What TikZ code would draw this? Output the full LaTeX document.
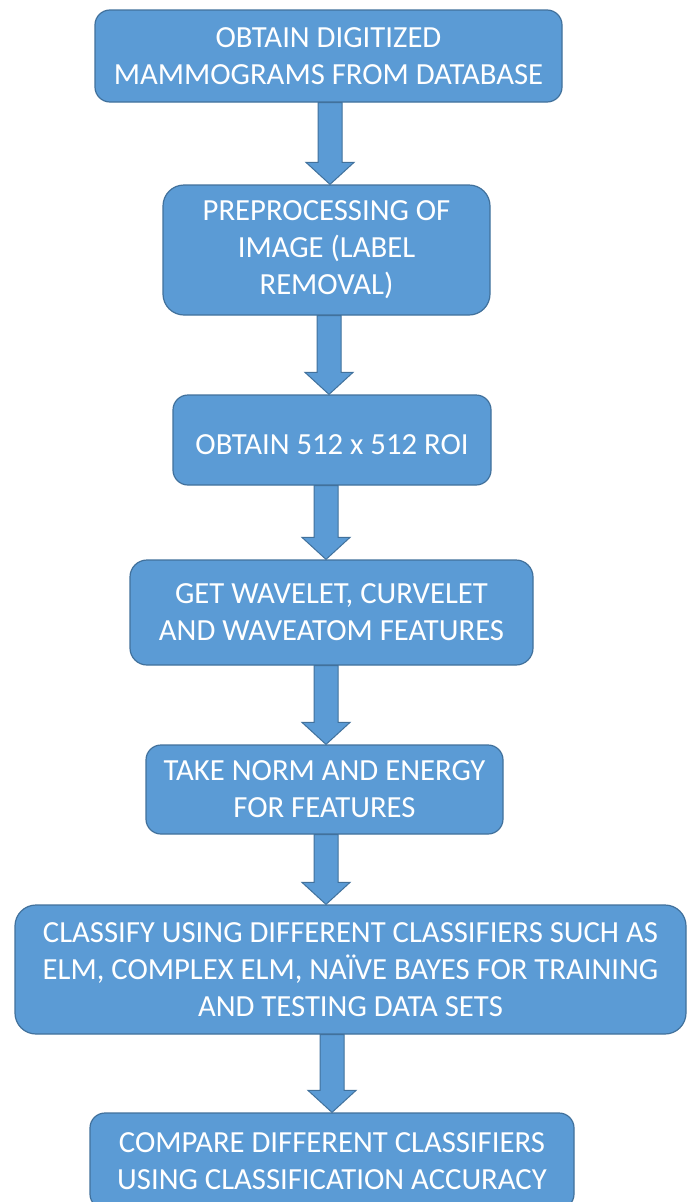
\documentclass[tikz,border=0pt]{standalone}
\usepackage{fontspec}
\setmainfont{Carlito}
\usetikzlibrary{calc}
\definecolor{boxblue}{HTML}{5B9BD5}
\definecolor{boxedge}{HTML}{41719C}
% block arrow from one box down to the next, shaft centred at x=#3
\newcommand{\flowarrow}[3]{%
  \filldraw[arrowpart] let \p1=(#1.south), \p2=(#2.north) in
    (#3pt-12pt,\y1) -- (#3pt+12pt,\y1) -- (#3pt+12pt,\y2+22pt) -- (#3pt+24pt,\y2+22pt)
    -- (#3pt,\y2) -- (#3pt-24pt,\y2+22pt) -- (#3pt-12pt,\y2+22pt) -- cycle;}

\begin{document}
\begin{tikzpicture}[x=1pt,y=-1pt,
  stepbox/.style={draw=boxedge, fill=boxblue, line width=1.2pt, rounded corners=15pt,
    text=white, align=center, inner sep=0pt, font=\fontsize{30.7}{37}\selectfont,
    execute at begin node={\rule{0pt}{30pt}}},
  arrowpart/.style={draw=boxedge, fill=boxblue, line width=1pt}]
\fill[white] (0,0) rectangle (691,1202);
\clip (0,0) rectangle (691,1202);
\node[stepbox, minimum width=467, minimum height=92] (obtain) at (328.5,56) {OBTAIN DIGITIZED\\MAMMOGRAMS FROM DATABASE};
\node[stepbox, minimum width=327, minimum height=130, rounded corners=21pt] (prep) at (326.5,250) {PREPROCESSING OF\\IMAGE (LABEL\\REMOVAL)};
\node[stepbox, minimum width=318, minimum height=90] (roi) at (332,440) {OBTAIN 512 x 512 ROI};
\node[stepbox, minimum width=403, minimum height=105, rounded corners=17pt] (feat) at (331.5,612.5) {GET WAVELET, CURVELET\\AND WAVEATOM FEATURES};
\node[stepbox, minimum width=357, minimum height=89] (norm) at (324.5,789.5) {TAKE NORM AND ENERGY\\FOR FEATURES};
\node[stepbox, minimum width=671, minimum height=129, rounded corners=21pt] (classify) at (350.5,969.5) {CLASSIFY USING DIFFERENT CLASSIFIERS SUCH AS\\ELM, COMPLEX ELM, NAÏVE BAYES FOR TRAINING\\AND TESTING DATA SETS};
\node[stepbox, minimum width=484, minimum height=96] (compare) at (332,1161) {COMPARE DIFFERENT CLASSIFIERS\\USING CLASSIFICATION ACCURACY};
\flowarrow{obtain}{prep}{330}
\flowarrow{prep}{roi}{329}
\flowarrow{roi}{feat}{326}
\flowarrow{feat}{norm}{326}
\flowarrow{norm}{classify}{326}
\flowarrow{classify}{compare}{332}
\end{tikzpicture}
\end{document}
